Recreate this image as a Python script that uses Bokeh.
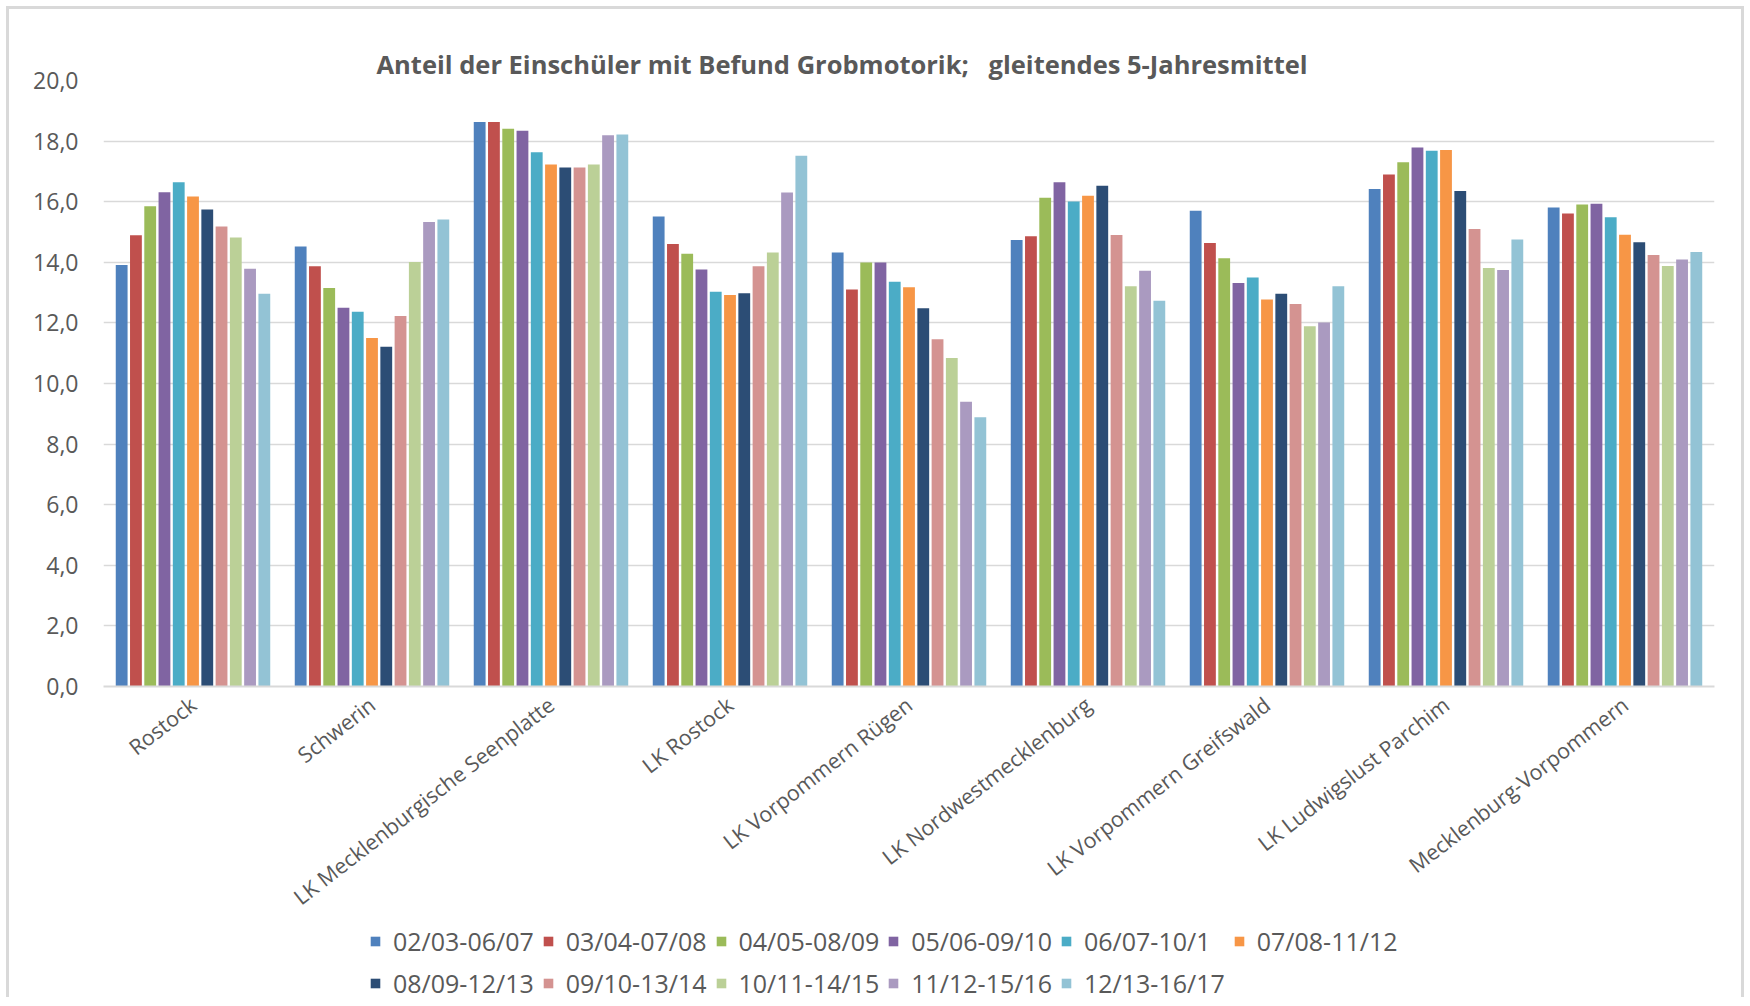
from bokeh.plotting import figure
from bokeh.layouts import column
from bokeh.models import (ColumnDataSource, FactorRange, Range1d, FixedTicker,
                          Legend, LegendItem)
from bokeh.transform import dodge
from bokeh.embed import file_html
from bokeh.resources import INLINE

categories = ["Rostock", "Schwerin", "LK Mecklenburgische Seenplatte", "LK Rostock",
              "LK Vorpommern Rügen", "LK Nordwestmecklenburg", "LK Vorpommern Greifswald",
              "LK Ludwigslust Parchim", "Mecklenburg-Vorpommern"]

series_names = ["02/03-06/07", "03/04-07/08", "04/05-08/09", "05/06-09/10", "06/07-10/1",
                "07/08-11/12", "08/09-12/13", "09/10-13/14", "10/11-14/15", "11/12-15/16",
                "12/13-16/17"]

s_0203_0607 = [13.91, 14.52, 18.63, 15.51, 14.32, 14.74, 15.70, 16.42, 15.81]
s_0304_0708 = [14.89, 13.87, 18.63, 14.60, 13.10, 14.86, 14.64, 16.90, 15.61]
s_0405_0809 = [15.85, 13.15, 18.41, 14.28, 13.99, 16.13, 14.13, 17.30, 15.91]
s_0506_0910 = [16.31, 12.50, 18.34, 13.76, 13.99, 16.64, 13.32, 17.79, 15.93]
s_0607_101 = [16.64, 12.37, 17.63, 13.03, 13.36, 16.01, 13.50, 17.68, 15.49]
s_0708_1112 = [16.17, 11.50, 17.23, 12.92, 13.18, 16.20, 12.77, 17.71, 14.91]
s_0809_1213 = [15.74, 11.21, 17.13, 12.98, 12.48, 16.53, 12.96, 16.35, 14.66]
s_0910_1314 = [15.18, 12.23, 17.13, 13.87, 11.46, 14.90, 12.62, 15.10, 14.24]
s_1011_1415 = [14.82, 14.01, 17.23, 14.32, 10.84, 13.21, 11.89, 13.81, 13.88]
s_1112_1516 = [13.79, 15.33, 18.19, 16.30, 9.40, 13.72, 12.01, 13.75, 14.09]
s_1213_1617 = [12.96, 15.41, 18.22, 17.52, 8.89, 12.73, 13.21, 14.75, 14.34]

series_values = [s_0203_0607, s_0304_0708, s_0405_0809, s_0506_0910, s_0607_101,
                 s_0708_1112, s_0809_1213, s_0910_1314, s_1011_1415, s_1112_1516,
                 s_1213_1617]

colors = ["#4F81BD", "#C0504D", "#9BBB59", "#8064A2", "#4BACC6", "#F79646",
          "#2C4D75", "#D49391", "#BBD097", "#AA9AC0", "#93C3D5"]

y_ticks = list(range(0, 21, 2))

TITLE = "Anteil der Einschüler mit Befund Grobmotorik;\u00a0\u00a0\u00a0gleitendes 5-Jahresmittel"
FONT = "Open Sans"
TXT = "#595959"

data = {"cat": categories}
for j, vals in enumerate(series_values):
    data[f"s{j}"] = vals
source = ColumnDataSource(data)

# ---------------- main chart ----------------
p = figure(x_range=FactorRange(*categories, range_padding=0), y_range=Range1d(0, 20),
           width=1750, height=925, output_backend="svg", toolbar_location=None,
           min_border_left=103, min_border_right=36, min_border_top=80,
           min_border_bottom=239, title=TITLE)
p.border_fill_color = None
p.background_fill_color = None
p.outline_line_color = None

p.title.align = "left"
p.title.offset = 273
p.title.standoff = 0
p.title.text_font = FONT
p.title.text_font_style = "bold"
p.title.text_font_size = "25.5px"
p.title.text_color = TXT

slot = 0.0797
for j, name in enumerate(series_names):
    off = (j - 5) * slot
    p.vbar(x=dodge("cat", off, range=p.x_range), top=f"s{j}", width=0.066,
           source=source, fill_color=colors[j], line_color=None)

p.yaxis.ticker = FixedTicker(ticks=y_ticks)
p.yaxis.major_label_overrides = {t: f"{t},0" for t in y_ticks}
p.yaxis.axis_line_color = None
p.yaxis.major_tick_line_color = None
p.yaxis.minor_tick_line_color = None
p.yaxis.major_label_standoff = 19
p.yaxis.major_label_text_font = FONT
p.yaxis.major_label_text_font_size = "23px"
p.yaxis.major_label_text_color = TXT

p.xaxis.major_label_orientation = 0.66
p.xaxis.axis_line_color = "#d9d9d9"
p.xaxis.axis_line_width = 2
p.xaxis.major_tick_line_color = None
p.xaxis.minor_tick_line_color = None
p.xaxis.major_label_standoff = 9
p.xaxis.major_label_text_font = FONT
p.xaxis.major_label_text_font_size = "21.4px"
p.xaxis.major_label_text_color = TXT

p.xgrid.grid_line_color = None
p.ygrid.grid_line_color = "#d9d9d9"
p.ygrid.grid_line_width = 1.5

# ---------------- legend strip ----------------
p2 = figure(width=1750, height=81, x_range=Range1d(0, 1), y_range=Range1d(0, 1),
            x_axis_location=None, y_axis_location=None, toolbar_location=None,
            output_backend="svg", min_border=0)
p2.grid.visible = False
p2.outline_line_color = None
p2.border_fill_color = None
p2.background_fill_color = None

items = []
for j, name in enumerate(series_names):
    # zero-height swatch renderer, only used for the legend entry
    r = p2.vbar(x=[0.5], top=[0], bottom=[0], width=0.001, fill_color=colors[j],
                line_color=None)
    items.append(LegendItem(label=name, renderers=[r]))

legend = Legend(items=items, ncols=6, location=(266, 6), orientation="horizontal")
legend.label_text_font = FONT
legend.label_text_font_size = "25px"
legend.label_text_color = TXT
legend.glyph_width = 12
legend.glyph_height = 12
legend.label_standoff = 12
legend.spacing = 8
legend.padding = 0
legend.margin = 0
legend.border_line_color = None
legend.background_fill_color = None
p2.add_layout(legend, "center")

layout = column(p, p2, spacing=0)
layout.styles = {"box-shadow": "inset 0 -9px 0 0 white, inset 0 0 0 6px white, inset 0 0 0 9px #d9d9d9",
                 "background-color": "white"}

open("out.html", "w").write(file_html(layout, INLINE))
